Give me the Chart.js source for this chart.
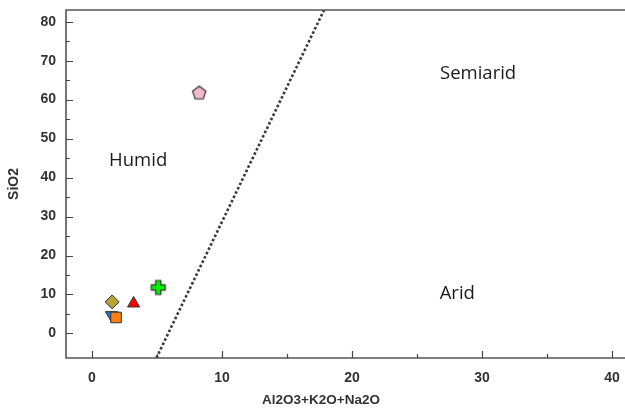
<!DOCTYPE html>
<html>
<head>
<meta charset="utf-8">
<script src="https://cdn.jsdelivr.net/npm/chart.js@4/dist/chart.umd.min.js"></script>
<style>
  html, body { margin: 0; padding: 0; background: #fff; }
  #wrap { width: 625px; height: 409px; }
</style>
</head>
<body>
<div id="wrap"><canvas id="diagrama"></canvas></div>
<script>
// amostras (Al2O3+K2O+Na2O, SiO2)
const amostraX = [8.25, 5.1, 1.55, 3.2, 1.85, 1.5]
const amostraY = [61.8, 11.8, 8.1, 7.7, 4.1, 4.7]
// linha que separa humid de arid/semiarid
const linhaX = [4.95, 17.85]
const linhaY = [-6.3, 83]
// rotulos das regioes
const regiaoNome = ['Humid', 'Semiarid', 'Arid']
const regiaoX = [3.55, 29.7, 28.1]
const regiaoY = [44.4, 66.7, 10.3]
const ticksX = [0, 5, 10, 15, 20, 25, 30, 35, 40]
const ticksY = [0, 5, 10, 15, 20, 25, 30, 35, 40, 45, 50, 55, 60, 65, 70, 75, 80]

function marcador(tipo, fill) {
    let c = document.createElement('canvas')
    c.width = 18; c.height = 18
    let g = c.getContext('2d')
    g.fillStyle = fill
    g.strokeStyle = '#333'
    g.lineWidth = 1.2
    g.beginPath()
    if (tipo == 'pentagono') {
        for (let i = 0; i < 5; i++) {
            let a = -Math.PI / 2 + i * 2 * Math.PI / 5
            let px = 9 + 7 * Math.cos(a), py = 9.6 + 7 * Math.sin(a)
            i == 0 ? g.moveTo(px, py) : g.lineTo(px, py)
        }
    } else {
        let a = 2.6, b = 7
        g.moveTo(9 - a, 9 - b); g.lineTo(9 + a, 9 - b); g.lineTo(9 + a, 9 - a)
        g.lineTo(9 + b, 9 - a); g.lineTo(9 + b, 9 + a); g.lineTo(9 + a, 9 + a)
        g.lineTo(9 + a, 9 + b); g.lineTo(9 - a, 9 + b); g.lineTo(9 - a, 9 + a)
        g.lineTo(9 - b, 9 + a); g.lineTo(9 - b, 9 - a); g.lineTo(9 - a, 9 - a)
    }
    g.closePath()
    g.fill()
    g.stroke()
    return c
}

const estilos = [
    { style: marcador('pentagono', '#f5b8ca'), color: '#f5b8ca', r: 8, rot: 0 },
    { style: marcador('cruz', '#00f000'), color: '#00f000', r: 8, rot: 0 },
    { style: 'rectRot', color: '#b5a437', r: 7, rot: 0 },
    { style: 'triangle', color: '#ff0000', r: 7, rot: 0 },
    { style: 'rect', color: '#ff8010', r: 7.5, rot: 0 },
    { style: 'triangle', color: '#1f78d8', r: 7, rot: 180 }
]

var datasets = amostraX.map((x, i) => ({
    type: 'scatter',
    data: [{ x: x, y: amostraY[i] }],
    pointStyle: estilos[i].style,
    backgroundColor: estilos[i].color,
    borderColor: '#333',
    borderWidth: 1,
    pointRadius: estilos[i].r,
    pointRotation: estilos[i].rot
}))
datasets.push({
    type: 'line',
    data: linhaX.map((x, i) => ({ x: x, y: linhaY[i] })),
    borderColor: '#3a3a3a',
    borderWidth: 2.6,
    borderDash: [2.6, 2.2],
    pointRadius: 0,
    fill: false
})

const moldura = {
    id: 'moldura',
    afterDraw(chart) {
        let ctx = chart.ctx
        let a = chart.chartArea
        let sx = chart.scales.x, sy = chart.scales.y
        ctx.save()
        ctx.strokeStyle = '#555'
        ctx.lineWidth = 1.6
        ctx.beginPath()
        ctx.moveTo(a.right + 2, a.top); ctx.lineTo(a.left, a.top)
        ctx.lineTo(a.left, a.bottom); ctx.lineTo(a.right + 2, a.bottom)
        ctx.stroke()
        ctx.lineWidth = 1.2
        ctx.strokeStyle = '#444'
        ctx.beginPath()
        ticksX.forEach(v => {
            let px = Math.round(sx.getPixelForValue(v)) + 0.5
            let l = v % 10 == 0 ? 7 : 4
            ctx.moveTo(px, a.bottom); ctx.lineTo(px, a.bottom - l)
        })
        ticksY.forEach(v => {
            let py = Math.round(sy.getPixelForValue(v)) + 0.5
            let l = v % 10 == 0 ? 7 : 4
            ctx.moveTo(a.left, py); ctx.lineTo(a.left + l, py)
        })
        ctx.stroke()
        // regioes
        ctx.fillStyle = '#1a1a1a'
        ctx.font = '18.5px "Open Sans"'
        ctx.textAlign = 'center'
        ctx.textBaseline = 'middle'
        regiaoNome.forEach((n, i) => {
            ctx.fillText(n, sx.getPixelForValue(regiaoX[i]), sy.getPixelForValue(regiaoY[i]))
        })
        // titulo eixo x
        ctx.fillStyle = '#333'
        ctx.font = 'bold 13.5px "Liberation Sans"'
        ctx.fillText('Al2O3+K2O+Na2O', 321, 400)
        ctx.restore()
    }
}

var ctx = document.getElementById('diagrama').getContext('2d');
var grafico = new Chart(ctx, {
    data: { datasets: datasets },
    plugins: [moldura],
    options: {
        responsive: true,
        maintainAspectRatio: false,
        animation: false,
        layout: { autoPadding: false, padding: { top: 10, right: 0, left: 0, bottom: 0 } },
        plugins: { legend: { display: false }, tooltip: { enabled: false } },
        scales: {
            x: {
                type: 'linear',
                min: -2,
                max: 41,
                grid: { display: false, drawTicks: false },
                border: { display: false },
                afterFit: s => { s.height = 51; s.paddingLeft = 0; s.paddingRight = 0 },
                ticks: {
                    stepSize: 10,
                    includeBounds: false,
                    padding: 12,
                    color: '#333',
                    font: { family: 'Liberation Sans', size: 14, weight: 'bold' },
                    maxRotation: 0
                }
            },
            y: {
                type: 'linear',
                min: -6.3,
                max: 83,
                grid: { display: false, drawTicks: false },
                border: { display: false },
                afterFit: s => { s.width = 66; s.paddingTop = 0; s.paddingBottom = 0 },
                title: {
                    display: true,
                    text: 'SiO2',
                    color: '#333',
                    padding: { top: 6, bottom: 0 },
                    font: { family: 'Liberation Sans', size: 14, weight: 'bold' }
                },
                ticks: {
                    stepSize: 10,
                    includeBounds: false,
                    padding: 10,
                    color: '#333',
                    font: { family: 'Liberation Sans', size: 14, weight: 'bold' }
                }
            }
        }
    }
})
</script>
</body>
</html>
